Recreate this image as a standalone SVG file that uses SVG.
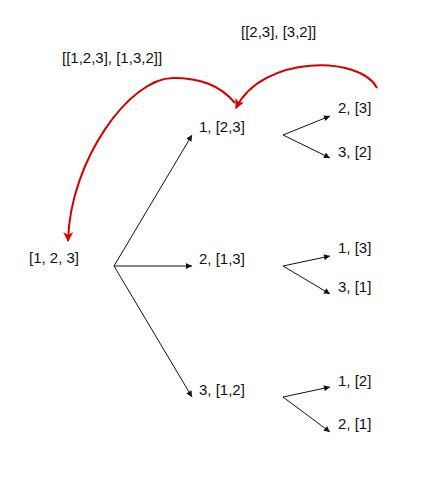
<svg xmlns="http://www.w3.org/2000/svg" width="442" height="488" viewBox="0 0 442 488">
<style>
text{font-family:"Liberation Sans",Arial,sans-serif;font-size:15px;fill:#111}
.e{stroke:#111;stroke-width:1;fill:none;marker-end:url(#ab)}
.r{stroke:#d40000;stroke-width:2;fill:none;marker-end:url(#ar)}
</style>
<defs>
<marker id="ab" viewBox="0 0 10 10" refX="10" refY="5" markerWidth="7" markerHeight="6" markerUnits="userSpaceOnUse" orient="auto"><path d="M0,0L10,5L0,10z" fill="#111"/></marker>
<marker id="ar" viewBox="0 0 10 10" refX="9" refY="5" markerWidth="11" markerHeight="10" markerUnits="userSpaceOnUse" orient="auto"><path d="M0,0L10,5L0,10L3,5z" fill="#d40000"/></marker>
</defs>
<rect width="442" height="488" fill="#fff"/>
<g id="connectors">
<path class="e" d="M114,266L192,135"/>
<path class="e" d="M114,266L192,266"/>
<path class="e" d="M114,266L192,397"/>
<path class="e" d="M283,135L330,116"/>
<path class="e" d="M283,135L330,158"/>
<path class="e" d="M283,266L330,256"/>
<path class="e" d="M283,266L330,294"/>
<path class="e" d="M283,397L330,387"/>
<path class="e" d="M283,397L330,432"/>
<path class="r" d="M377,88C360,55 262,55 236,108"/>
<path class="r" d="M235,103C220,85 200,78 173,78C130,78 70,160 68,241"/>
</g>
<g id="label-top1"><text x="241" y="37">[[2,3], [3,2]]</text></g>
<g id="label-top2"><text x="62" y="63">[[1,2,3], [1,3,2]]</text></g>
<g id="root"><text x="29" y="263">[1, 2, 3]</text></g>
<g id="n1"><text x="199" y="132">1, [2,3]</text></g>
<g id="n2"><text x="199" y="264">2, [1,3]</text></g>
<g id="n3"><text x="199" y="395">3, [1,2]</text></g>
<g id="n1a"><text x="338" y="113">2, [3]</text></g>
<g id="n1b"><text x="338" y="157">3, [2]</text></g>
<g id="n2a"><text x="338" y="253">1, [3]</text></g>
<g id="n2b"><text x="338" y="292">3, [1]</text></g>
<g id="n3a"><text x="338" y="386">1, [2]</text></g>
<g id="n3b"><text x="338" y="429">2, [1]</text></g>
</svg>
